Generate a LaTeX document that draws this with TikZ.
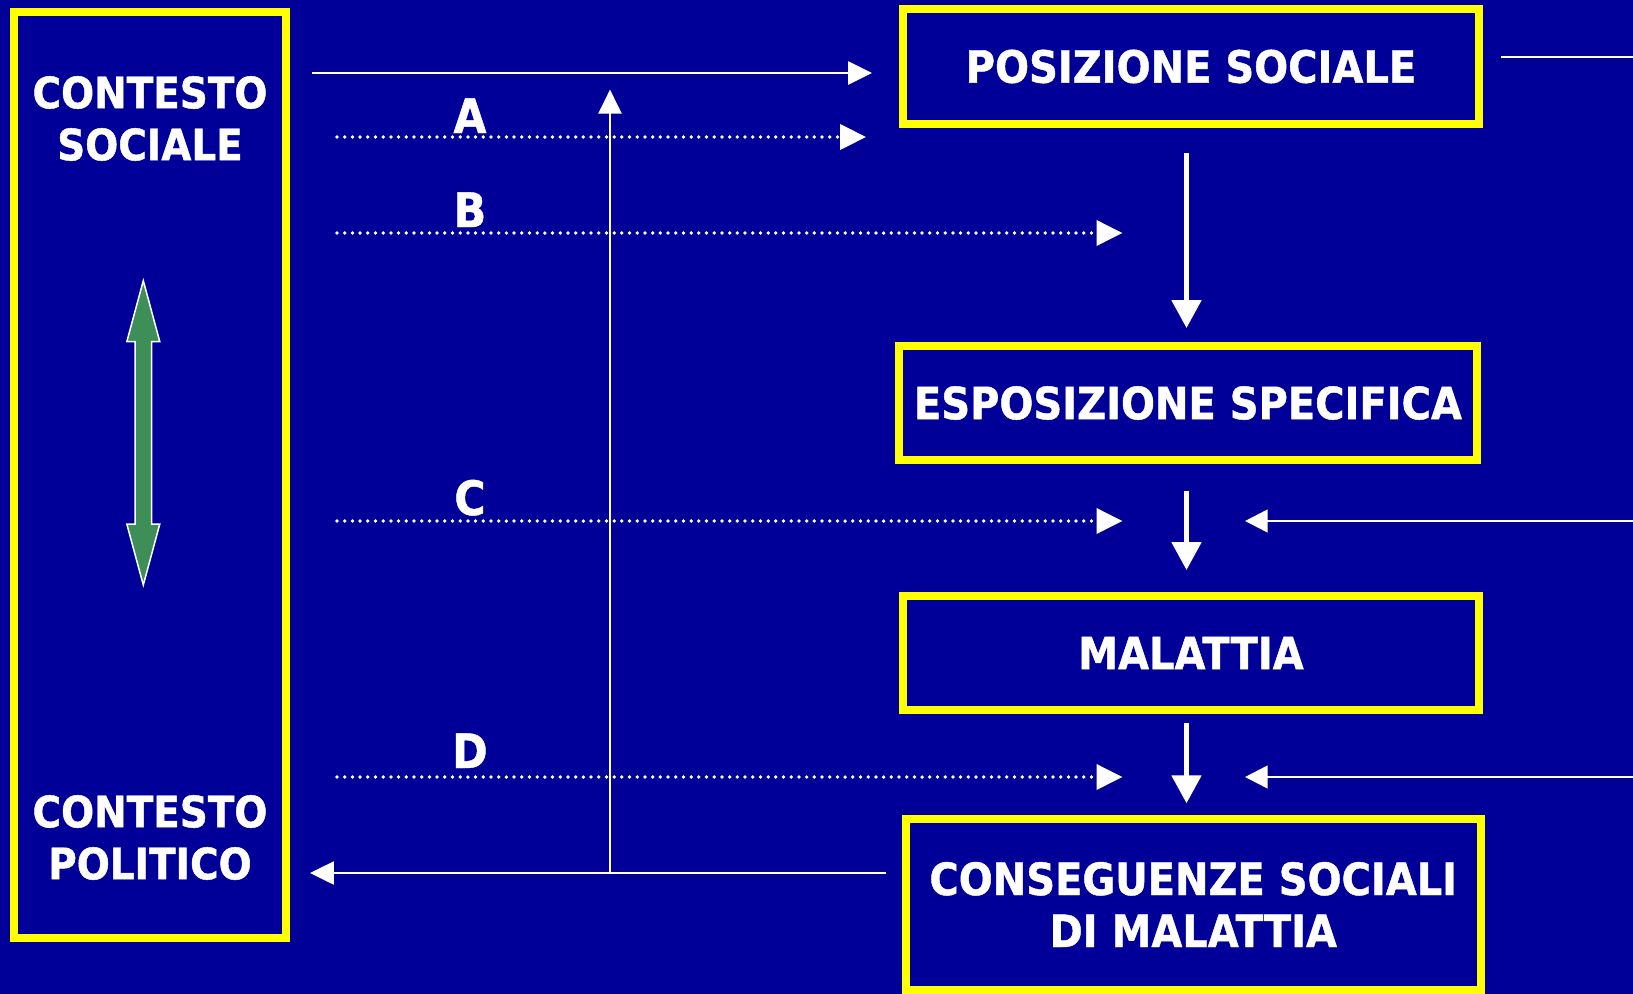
\documentclass[tikz,border=0pt]{standalone}
\usepackage{fontspec}
\newfontfamily\lab[FakeStretch=0.9,FakeBold=1]{DejaVu Sans}
\usetikzlibrary{arrows.meta}
\definecolor{bgblue}{RGB}{0,0,153}
\definecolor{boxyellow}{RGB}{255,255,0}
\definecolor{arrgreen}{RGB}{62,142,88}
\begin{document}
\begin{tikzpicture}[x=0.02cm,y=-0.02cm,
  ybox/.style={draw=boxyellow, line width=0.16cm, fill=bgblue, text=white,
    font=\lab\bfseries\fontsize{25.3}{29.6}\selectfont, align=center,
    inner sep=0pt, outer sep=0.08cm},
  wtext/.style={text=white, font=\lab\bfseries\fontsize{24.6}{29.6}\selectfont,
    align=center, inner sep=0pt},
  lbl/.style={text=white, font=\lab\bfseries\fontsize{27}{32}\selectfont, inner sep=0pt},
  thinarrow/.style={draw=white, line width=0.05cm, -{Triangle[length=0.48cm,width=0.46cm]}},
  thinline/.style={draw=white, line width=0.05cm},
  dotarrow/.style={draw=white, line width=0.075cm, line cap=round,
    dash pattern=on 0pt off 0.154cm, -{Triangle[length=0.52cm,width=0.5cm]}},
  thickarrow/.style={draw=white, line width=0.1cm, -{Triangle[length=0.56cm,width=0.58cm]}},
  inarrow/.style={draw=white, line width=0.05cm, -{Triangle[length=0.45cm,width=0.45cm]}}
]
\fill[bgblue] (0,0) rectangle (1633,994);
\useasboundingbox (0,0) rectangle (1633,994);

% boxes
\node[ybox, minimum width=5.44cm, minimum height=18.52cm] (lb) at (150,475) {};
\node[wtext] (cs) at (150,118.5) {CONTESTO\\SOCIALE};
\node[wtext] (cp) at (150,837.5) {CONTESTO\\POLITICO};

\node[ybox, minimum width=11.54cm, minimum height=2.29cm] (pos) at (1191,66.5) {POSIZIONE SOCIALE};
\node[ybox, minimum width=11.56cm, minimum height=2.29cm] (esp) at (1188,403) {ESPOSIZIONE SPECIFICA};
\node[ybox, minimum width=11.54cm, minimum height=2.29cm] (mal) at (1191,653) {MALATTIA};
\node[ybox, minimum width=11.51cm, minimum height=3.42cm] (cons) at (1193.3,904.5) {CONSEGUENZE SOCIALI\\DI MALATTIA};

% labels
\node[lbl, anchor=base] (la) at (470,133) {A};
\node[lbl, anchor=base] (lbB) at (470,227) {B};
\node[lbl, anchor=base] (lc) at (470,515) {C};
\node[lbl, anchor=base] (ld) at (470,768) {D};

% coordinates
\coordinate (s0) at (312,73);
\coordinate (a0) at (337,137);
\coordinate (b0) at (337,233);
\coordinate (c0) at (337,521);
\coordinate (d0) at (337,777);
\coordinate (vx) at (1186.5,0);
\coordinate (bt) at (1122.5,0);
\coordinate (lt) at (1245,0);
\coordinate (re) at (1633,57);
\coordinate (rc) at (1633,521);
\coordinate (rd) at (1633,777);
\coordinate (j) at (610,873);
\coordinate (up) at (610,89.6);

% connectors
\draw[thinarrow, shorten >=0.53cm] (s0) -- (s0 -| pos.west);
\draw[dotarrow, shorten >=0.65cm] (a0) -- (a0 -| pos.west);
\draw[dotarrow] (b0) -- (b0 -| bt);
\draw[dotarrow] (c0) -- (c0 -| bt);
\draw[dotarrow] (d0) -- (d0 -| bt);
\draw[thinline, shorten <=0.35cm] (pos.east |- re) -- (re);
\draw[inarrow] (rc) -- (rc -| lt);
\draw[inarrow] (rd) -- (rd -| lt);
\draw[thickarrow, shorten <=0.506cm, shorten >=0.274cm] (pos.south -| vx) -- (esp.north -| vx);
\draw[thickarrow, shorten <=0.53cm, shorten >=0.434cm] (esp.south -| vx) -- (mal.north -| vx);
\draw[thickarrow, shorten <=0.18cm, shorten >=0.234cm] (mal.south -| vx) -- (cons.north -| vx);
\draw[thinarrow, shorten <=0.312cm, shorten >=0.4cm] (cons.west |- j) -- (j -| lb.east);
\draw[thinarrow] (j) -- (up);

% green double arrow
\draw[fill=arrgreen, draw=white, line width=0.03cm]
  (143.3,280.7) -- (159.8,341.7) -- (151.6,341.7) -- (151.6,524) -- (159.8,524)
  -- (143.3,585) -- (126.8,524) -- (135,524) -- (135,341.7) -- (126.8,341.7) -- cycle;
\end{tikzpicture}
\end{document}
